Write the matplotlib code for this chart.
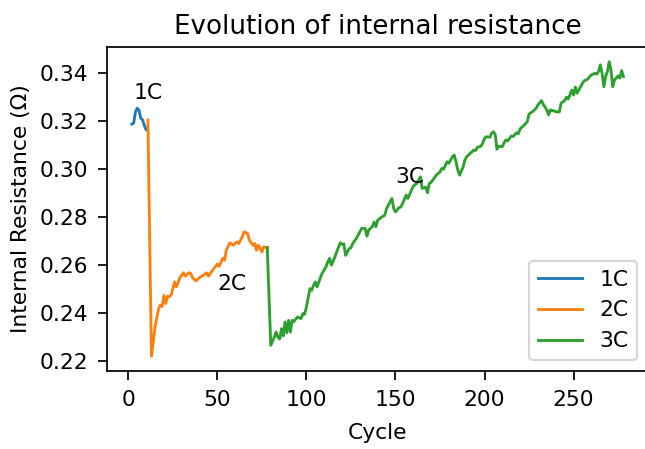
import matplotlib
matplotlib.use("Agg")
import matplotlib.pyplot as plt

# cycles / internal resistance
cycles_1c = [2, 3, 4, 5, 6, 7, 8, 9, 10]
res_1c = [0.3188, 0.3192, 0.3238, 0.3254, 0.3246, 0.3212, 0.3206, 0.3182, 0.3165]

cycles_2c = [11, 13, 15, 17, 18, 19, 20, 21, 22, 23, 24, 26, 27, 29, 31, 32, 34, 35,
             36, 38, 40, 42, 44, 45, 47, 48, 50, 51, 53, 54, 55, 57, 59, 61, 62, 64,
             65, 67, 68, 70, 71, 72, 73, 75, 76, 78]
res_2c = [0.3205, 0.2220, 0.2342, 0.2419, 0.2433, 0.2428, 0.2474, 0.2440, 0.2470,
          0.2468, 0.2474, 0.2530, 0.2509, 0.2548, 0.2568, 0.2554, 0.2568, 0.2566,
          0.2548, 0.2534, 0.2548, 0.2558, 0.2568, 0.2554, 0.2575, 0.2586, 0.2604,
          0.2595, 0.2628, 0.2620, 0.2662, 0.2693, 0.2683, 0.2697, 0.2690, 0.2718,
          0.2739, 0.2732, 0.2704, 0.2683, 0.2690, 0.2662, 0.2683, 0.2655, 0.2676,
          0.2673]

cycles_3c = [78, 80, 82, 83, 84, 85, 86, 87, 88, 89, 90, 91, 92, 93, 95, 97, 98, 99,
             100, 102, 103, 104, 105, 106, 108, 109, 110, 111, 112, 113, 114, 116,
             117, 119, 120, 121, 122, 124, 125, 126, 128, 129, 131, 133, 134, 135,
             137, 138, 139, 140, 142, 144, 145, 147, 148, 149, 150, 152, 153, 154,
             156, 157, 159, 160, 162, 163, 164, 165, 167, 168, 169, 170, 172, 173,
             175, 176, 177, 179, 180, 182, 183, 184, 185, 186, 188, 189, 190, 192,
             194, 195, 196, 198, 199, 200, 201, 203, 204, 205, 206, 207, 208, 210,
             211, 212, 213, 215, 216, 218, 219, 220, 222, 224, 225, 227, 229, 230,
             232, 233, 235, 236, 237, 238, 240, 242, 243, 245, 246, 247, 249, 250,
             251, 252, 254, 255, 256, 258, 259, 260, 262, 263, 264, 265, 266, 267,
             268, 269, 270, 271, 272, 273, 275, 276, 277, 278]
res_3c = [0.2673, 0.2266, 0.2300, 0.2321, 0.2300, 0.2292, 0.2335, 0.2305, 0.2363,
          0.2318, 0.2370, 0.2321, 0.2370, 0.2365, 0.2384, 0.2377, 0.2398, 0.2395,
          0.2426, 0.2502, 0.2495, 0.2516, 0.2530, 0.2509, 0.2551, 0.2568, 0.2580,
          0.2593, 0.2613, 0.2628, 0.2600, 0.2634, 0.2655, 0.2693, 0.2687, 0.2689,
          0.2641, 0.2669, 0.2672, 0.2690, 0.2711, 0.2725, 0.2753, 0.2753, 0.2721,
          0.2746, 0.2760, 0.2780, 0.2760, 0.2787, 0.2799, 0.2808, 0.2836, 0.2864,
          0.2878, 0.2836, 0.2822, 0.2840, 0.2842, 0.2857, 0.2892, 0.2878, 0.2913,
          0.2929, 0.2941, 0.2955, 0.2968, 0.2920, 0.2925, 0.2902, 0.2941, 0.2945,
          0.2966, 0.2976, 0.2989, 0.3003, 0.3000, 0.3031, 0.3025, 0.3052, 0.3059,
          0.3031, 0.2996, 0.2975, 0.3010, 0.3038, 0.3052, 0.3066, 0.3080, 0.3078,
          0.3091, 0.3096, 0.3108, 0.3129, 0.3135, 0.3133, 0.3150, 0.3156, 0.3145,
          0.3083, 0.3096, 0.3094, 0.3110, 0.3122, 0.3118, 0.3138, 0.3136, 0.3152,
          0.3148, 0.3168, 0.3182, 0.3198, 0.3230, 0.3240, 0.3254, 0.3268, 0.3286,
          0.3270, 0.3247, 0.3226, 0.3247, 0.3245, 0.3240, 0.3238, 0.3275, 0.3286,
          0.3300, 0.3292, 0.3330, 0.3309, 0.3342, 0.3317, 0.3344, 0.3358, 0.3369,
          0.3375, 0.3386, 0.3393, 0.3400, 0.3396, 0.3407, 0.3435, 0.3400, 0.3344,
          0.3386, 0.3407, 0.3448, 0.3414, 0.3344, 0.3372, 0.3389, 0.3380, 0.3411,
          0.3386]

labels = ["1C", "2C", "3C"]
label_pos = [(3, 0.3291), (50, 0.2495), (150, 0.2943)]

dpi = 157
fig = plt.figure(figsize=(645 / dpi, 449 / dpi), dpi=dpi)
# axes box placed as in the reference (right spine sits just past the crop)
ax = fig.add_axes([107.3 / 645, 1 - 371 / 449, 540.7 / 645, 324 / 449])

for cyc, res, lab in zip([cycles_1c, cycles_2c, cycles_3c], [res_1c, res_2c, res_3c], labels):
    ax.plot(cyc, res, label=lab, linewidth=1.3)

for lab, (x, y) in zip(labels, label_pos):
    ax.text(x, y, lab)

ax.tick_params(length=4.3, pad=4.3)
ax.set_title("Evolution of internal resistance")
ax.set_xlabel("Cycle", labelpad=6)
ax.set_ylabel("Internal Resistance (Ω)")
ax.legend(loc="lower right")

fig.savefig("out.png", dpi=dpi)
